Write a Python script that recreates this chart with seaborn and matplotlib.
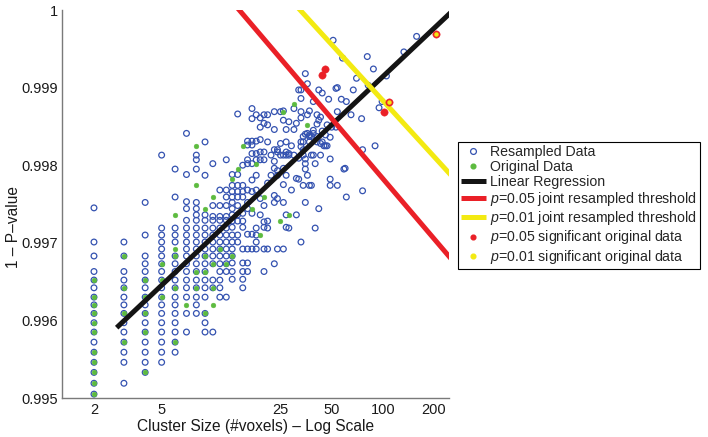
import numpy as np
import pandas as pd
import matplotlib
matplotlib.use("Agg")
import matplotlib.pyplot as plt
from matplotlib.lines import Line2D
import seaborn as sns

# ---------------- data ----------------
# P-values are given in units of 1e-4; the chart plots 1 - P
resampled_sizes = [2, 3, 4, 5, 6, 7, 8, 9, 10, 11, 12, 13, 14, 15, 16, 17, 18, 19, 20,
                   21, 22, 23, 24, 25, 26, 27, 28, 29, 30, 31, 32, 33, 34, 35, 36, 37, 38,
                   39, 40, 41, 42, 43, 44, 45, 46, 47, 48, 49, 50, 51, 53, 54, 57, 58, 59,
                   60, 61, 65, 67, 70, 75, 76, 81, 82, 88, 90, 95, 99, 105, 133, 158]
resampled_p_e4 = [
    [25.5, 29.9, 31.7, 33.7, 34.8, 35.8, 37.0, 38.0, 39.1, 40.3, 41.5, 42.8, 44.1, 45.4, 46.7, 48.1, 49.5],
    [29.9, 31.7, 33.7, 34.8, 35.8, 37.0, 38.0, 39.1, 40.3, 41.5, 42.8, 44.1, 45.4, 48.1],
    [24.8, 29.0, 31.7, 32.7, 33.7, 34.8, 35.8, 37.0, 38.0, 39.1, 40.3, 41.5, 42.8, 44.1, 45.4, 46.7],
    [18.7, 28.1, 29.0, 29.9, 30.8, 31.7, 32.7, 33.7, 34.8, 35.8, 37.0, 38.0, 39.1, 40.3, 41.5, 42.8, 44.1, 45.4],
    [20.5, 24.1, 28.1, 29.0, 29.9, 31.7, 32.7, 33.7, 34.8, 35.8, 37.0, 38.0, 39.1, 40.3, 41.5, 42.8, 44.1],
    [15.9, 21.2, 24.7, 25.6, 27.1, 28.1, 29.0, 29.9, 30.8, 31.7, 32.7, 33.7, 34.8, 35.8, 37.0, 39.1, 41.5],
    [18.7, 19.3, 20.5, 24.8, 25.6, 26.4, 27.1, 28.1, 29.0, 29.9, 30.8, 31.7, 32.7, 33.7, 34.8, 35.8, 37.0, 38.0, 39.1],
    [17.0, 21.3, 26.4, 27.1, 28.1, 29.0, 29.9, 30.8, 31.7, 32.7, 33.7, 34.8, 35.8, 37.0, 39.1, 40.3, 41.5],
    [19.8, 25.2, 26.6, 27.1, 28.1, 29.0, 29.9, 30.8, 31.7, 32.7, 34.8, 35.8, 41.5],
    [23.2, 25.2, 26.6, 27.1, 28.1, 29.0, 29.9, 30.8, 31.7, 32.7, 33.7, 34.8, 35.8, 37.0],
    [19.3, 23.2, 24.1, 25.2, 26.6, 27.1, 28.1, 29.0, 29.9, 30.8, 31.7, 32.7, 33.7, 37.0],
    [21.2, 22.6, 23.4, 24.1, 24.8, 25.6, 26.4, 27.2, 28.0, 29.0, 29.9, 30.8, 31.7, 32.6, 33.7, 34.7],
    [13.4, 21.2, 22.6, 23.4, 24.1, 25.2, 26.4, 27.2, 29.0, 29.9],
    [20.0, 22.6, 23.4, 24.1, 26.2, 27.2, 28.0, 30.8, 32.6, 33.7, 34.7, 35.8],
    [16.9, 17.4, 19.3, 19.8, 23.2, 24.8, 25.6, 28.9, 30.8, 32.6, 33.7],
    [12.7, 14.0, 16.9, 17.4, 18.5, 19.8, 21.9, 23.4, 26.2, 28.9, 30.8],
    [13.5, 16.9, 18.5, 19.3, 21.3, 23.2, 28.1, 29.0, 29.9, 30.8],
    [13.9, 15.1, 16.7, 18.3, 19.3, 24.3, 26.4],
    [13.5, 14.6, 18.3, 19.3, 25.2, 27.3, 28.0, 30.8, 33.7],
    [13.5, 14.8, 17.0, 22.3, 27.2, 28.1, 30.8],
    [18.7, 21.3],
    [13.1, 15.4, 18.0, 19.5, 20.4, 23.9, 24.8, 32.7],
    [18.0, 18.3, 20.7, 21.3, 24.3, 30.8],
    [13.1, 17.2, 18.7],
    [13.0, 14.2, 18.7, 20.4, 22.5, 24.8, 30.8],
    [15.4, 17.0, 18.3, 18.7, 21.3, 26.4, 28.0],
    [14.4, 18.5, 18.7, 28.1],
    [17.5, 23.2],
    [12.7, 15.4, 18.7],
    [14.6, 21.7, 26.4],
    [10.3, 19.1, 21.8],
    [10.3, 11.4, 13.1, 13.9, 17.0, 17.6, 29.9],
    [16.3, 17.0, 18.0, 18.7, 22.6],
    [8.2, 16.0, 19.2, 19.8, 20.5, 24.8],
    [9.5, 13.5, 15.9, 21.3],
    [13.0, 16.1, 16.3, 17.0, 22.6],
    [16.3, 18.7, 22.6],
    [11.8, 15.5, 15.9, 18.7],
    [19.8, 28.1],
    [13.5, 14.7, 16.3, 17.0],
    [10.3, 14.2, 25.6],
    [13.8, 17.2, 18.7],
    [10.7, 15.6, 17.0],
    [17.5],
    [16.1, 17.5],
    [14.8, 17.5],
    [11.5],
    [16.4, 19.2, 21.8, 22.6],
    [15.1],
    [3.9],
    [10.1, 15.1],
    [10.0, 13.1, 22.6],
    [11.5],
    [6.2],
    [20.5],
    [20.4],
    [11.8, 24.1],
    [13.5],
    [10.3],
    [8.8],
    [14.0],
    [18.0, 23.3],
    [6.0],
    [9.7],
    [7.6],
    [17.5],
    [12.6],
    [11.8],
    [8.5],
    [5.4],
    [3.4],
]

original_sizes = [2, 3, 4, 5, 6, 7, 8, 9, 10, 11, 12, 13, 14, 15, 17, 18, 19, 20, 25, 26, 28, 30, 36]
original_p_e4 = [
    [34.8, 37.0, 38.0, 39.1, 40.3, 41.5, 44.1, 45.4, 46.7, 48.1, 49.5],
    [31.7, 35.8, 39.1, 42.8],
    [34.8, 37.0, 39.1, 41.5, 46.7],
    [32.7, 34.8, 37.0],
    [26.4, 30.8, 31.7, 35.8, 42.8],
    [38.0],
    [17.5, 22.6, 33.7, 35.8],
    [25.6, 31.7, 33.7, 39.1],
    [24.1, 32.7, 35.8, 38.0],
    [30.8],
    [32.7],
    [21.8, 31.7],
    [20.5],
    [17.5],
    [25.6],
    [19.8],
    [29.0],
    [24.1],
    [27.2],
    [13.1],
    [26.4],
    [12.1],
    [14.8],
]

sig05_sizes = [44, 46, 102, 109, 205]
sig05_p_e4 = [8.4, 7.6, 13.1, 11.8, 3.1]
sig01_sizes = [109, 205]
sig01_p_e4 = [11.8, 3.1]

# lines in the form  y = intercept + slope * log10(size)
reg_intercept, reg_slope, reg_range = 0.995008, 0.002067, [2.72, 260]
thr05_intercept, thr05_slope, thr05_range = 1.002973, -0.002573, [10, 260]
thr01_intercept, thr01_slope, thr01_range = 1.003629, -0.002398, [25, 260]

x_ticks = [2, 5, 25, 50, 100, 200]
y_ticks = [0.995, 0.996, 0.997, 0.998, 0.999, 1.0]
y_tick_labels = ["0.995", "0.996", "0.997", "0.998", "0.999", "1"]

labels = ["Resampled Data", "Original Data", "Linear Regression",
          r"$p$=0.05 joint resampled threshold", r"$p$=0.01 joint resampled threshold",
          r"$p$=0.05 significant original data", r"$p$=0.01 significant original data"]

# ---------------- build tables ----------------
assert len(resampled_sizes) == len(resampled_p_e4)
assert len(original_sizes) == len(original_p_e4)


def expand(sizes, pvals):
    xs, ys = [], []
    for s, ps in zip(sizes, pvals):
        for p in ps:
            xs.append(s)
            ys.append(1 - p * 1e-4)
    return pd.DataFrame({"size": xs, "one_minus_p": ys})


df_res = expand(resampled_sizes, resampled_p_e4)
df_org = expand(original_sizes, original_p_e4)
df_s05 = pd.DataFrame({"size": sig05_sizes, "one_minus_p": [1 - p * 1e-4 for p in sig05_p_e4]})
df_s01 = pd.DataFrame({"size": sig01_sizes, "one_minus_p": [1 - p * 1e-4 for p in sig01_p_e4]})


def line_df(b0, b1, rng):
    xs = np.array(rng, dtype=float)
    return pd.DataFrame({"size": xs, "one_minus_p": b0 + b1 * np.log10(xs)})


# ---------------- style ----------------
sns.set_style("white")
plt.rcParams["font.family"] = ["Liberation Sans", "DejaVu Sans"]
plt.rcParams["mathtext.fontset"] = "custom"
plt.rcParams["mathtext.rm"] = "Liberation Sans"
plt.rcParams["mathtext.it"] = "Liberation Sans:italic"

BLUE = "#3452b0"
GREEN = "#5dbb3f"
BLACK = "#141414"
RED = "#ea2027"
YELLOW = "#f3ea12"
GREY = "#7a7a7a"
TXT = "#1a1a1a"

fig = plt.figure(figsize=(7.08, 4.37), dpi=100)
ax = fig.add_axes([62 / 708, 39 / 437, 387.3 / 708, 388 / 437])
ax.set_xscale("log")

sns.scatterplot(data=df_res, x="size", y="one_minus_p", marker="o", s=17,
                facecolor="none", edgecolor=BLUE, linewidth=0.9, ax=ax, legend=False, zorder=2)
sns.scatterplot(data=df_org, x="size", y="one_minus_p", marker="o", s=12,
                color=GREEN, edgecolor=GREEN, linewidth=0.3, ax=ax, legend=False, zorder=3)

for (b0, b1, rng), col in [((reg_intercept, reg_slope, reg_range), BLACK),
                           ((thr05_intercept, thr05_slope, thr05_range), RED),
                           ((thr01_intercept, thr01_slope, thr01_range), YELLOW)]:
    sns.lineplot(data=line_df(b0, b1, rng), x="size", y="one_minus_p", color=col,
                 linewidth=3.6, estimator=None, sort=False, ax=ax, legend=False,
                 solid_capstyle="butt", zorder=4)

sns.scatterplot(data=df_s05, x="size", y="one_minus_p", marker="o", s=28,
                color=RED, edgecolor=RED, linewidth=0.3, ax=ax, legend=False, zorder=5)
sns.scatterplot(data=df_s01, x="size", y="one_minus_p", marker="o", s=8,
                color=YELLOW, edgecolor=YELLOW, linewidth=0.3, ax=ax, legend=False, zorder=6)

ax.set_xlim(1.297, 246)
ax.set_ylim(0.995, 1.0)
ax.set_xticks(x_ticks)
ax.set_xticklabels([str(t) for t in x_ticks])
ax.xaxis.set_minor_locator(matplotlib.ticker.NullLocator())
ax.set_yticks(y_ticks)
ax.set_yticklabels(y_tick_labels)
ax.tick_params(axis="both", direction="in", length=3, width=0.8, color=GREY,
               labelsize=10.5, labelcolor=TXT)
ax.tick_params(axis="x", pad=3.5)
ax.tick_params(axis="y", pad=3)
for side in ["top", "right"]:
    ax.spines[side].set_visible(False)
for side in ["left", "bottom"]:
    ax.spines[side].set_color(GREY)
    ax.spines[side].set_linewidth(1.0)

ax.set_xlabel("Cluster Size (#voxels) \u2013 Log Scale", fontsize=11.2, labelpad=1.5, color=TXT)
ax.set_ylabel("1 \u2013 P\u2013value", fontsize=11.2, color=TXT)
ax.yaxis.set_label_coords(-0.106, 0.44)

handles = [
    Line2D([], [], ls="none", marker="o", mfc="none", mec=BLUE, ms=4.2, mew=0.9),
    Line2D([], [], ls="none", marker="o", mfc=GREEN, mec=GREEN, ms=3.4),
    Line2D([], [], color=BLACK, lw=3.6, solid_capstyle="butt"),
    Line2D([], [], color=RED, lw=3.6, solid_capstyle="butt"),
    Line2D([], [], color=YELLOW, lw=3.6, solid_capstyle="butt"),
    Line2D([], [], ls="none", marker="o", mfc=RED, mec=RED, ms=3.4),
    Line2D([], [], ls="none", marker="o", mfc=YELLOW, mec=YELLOW, ms=3.4),
]
leg = fig.legend(handles, labels, loc="upper left",
                 bbox_to_anchor=(457.7 / 708, 1 - 141.7 / 437),
                 frameon=True, fancybox=False, edgecolor="black", framealpha=1,
                 fontsize=10.2, handlelength=1.75, handletextpad=0.3,
                 labelspacing=0.08, borderpad=0.22, borderaxespad=0)
leg.get_frame().set_linewidth(0.8)

fig.savefig("out.png", dpi=100)
